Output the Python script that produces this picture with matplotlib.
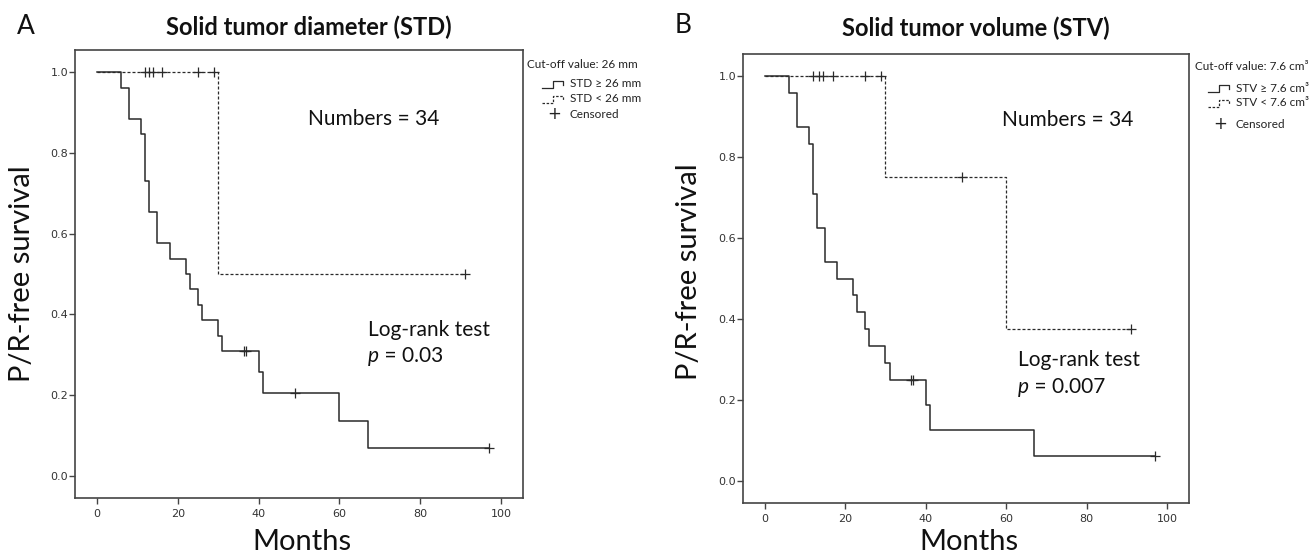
import matplotlib
matplotlib.use('Agg')
import matplotlib.pyplot as plt
from matplotlib.lines import Line2D

# DATA
# ------------------------------------------------------------------------------

# A - STD >= 26 mm (solid)
a_hi_t = [0, 6, 8, 11, 12, 13, 15, 18, 22, 23, 25, 26, 30, 31, 40, 41, 60, 67, 97]
a_hi_s = [1.0, 0.962, 0.885, 0.846, 0.731, 0.654, 0.577, 0.538, 0.500, 0.462,
          0.423, 0.385, 0.346, 0.308, 0.256, 0.205, 0.137, 0.068, 0.068]
a_hi_cens_t = [36.3, 36.8, 49, 97]
a_hi_cens_s = [0.308, 0.308, 0.205, 0.068]

# A - STD < 26 mm (dashed)
a_lo_t = [0, 30, 91]
a_lo_s = [1.0, 0.5, 0.5]
a_lo_cens_t = [12, 13, 14, 16, 25, 29, 91]
a_lo_cens_s = [1.0, 1.0, 1.0, 1.0, 1.0, 1.0, 0.5]

# B - STV >= 7.6 cm3 (solid)
b_hi_t = [0, 6, 8, 11, 12, 13, 15, 18, 22, 23, 25, 26, 30, 31, 40, 41, 67, 97]
b_hi_s = [1.0, 0.958, 0.875, 0.833, 0.708, 0.625, 0.542, 0.500, 0.458, 0.417,
          0.375, 0.333, 0.292, 0.250, 0.188, 0.125, 0.062, 0.062]
b_hi_cens_t = [36.3, 36.8, 97]
b_hi_cens_s = [0.250, 0.250, 0.062]

# B - STV < 7.6 cm3 (dashed)
b_lo_t = [0, 30, 60, 91]
b_lo_s = [1.0, 0.75, 0.375, 0.375]
b_lo_cens_t = [12, 13.5, 14.5, 17, 25, 29, 49, 91]
b_lo_cens_s = [1.0, 1.0, 1.0, 1.0, 1.0, 1.0, 0.75, 0.375]

x_ticks = [0, 20, 40, 60, 80, 100]
y_ticks = [0.0, 0.2, 0.4, 0.6, 0.8, 1.0]

# STYLE
# ------------------------------------------------------------------------------

W, H = 1311, 554
ink = '#2a2a2a'
fam = ['Lato', 'DejaVu Sans']

fig = plt.figure(figsize=(W / 100, H / 100), dpi=100, facecolor='white')


def fx(px):
    return px / W


def fy(py):
    return 1 - py / H


def km_panel(rect, hi, lo, n_xy, lr_xy, p_txt):
    ax = fig.add_axes(rect)
    t, s, ct, cs = hi
    t2, s2, ct2, cs2 = lo
    ax.plot(t2, s2, drawstyle='steps-post', color=ink, lw=0.9,
            linestyle=(0, (2.4, 1.6)))
    ax.plot(ct2, cs2, ls='none', marker='+', ms=7, mew=0.9, color=ink)
    ax.plot(t, s, drawstyle='steps-post', color=ink, lw=1.1)
    ax.plot(ct, cs, ls='none', marker='+', ms=7, mew=0.9, color=ink)

    ax.set_xlim(-5.4, 105.4)
    ax.set_ylim(-0.055, 1.055)
    ax.set_xticks(x_ticks)
    ax.set_yticks(y_ticks)
    ax.set_yticklabels([f'{v:.1f}' for v in y_ticks])
    for sp in ax.spines.values():
        sp.set_color('#444444')
        sp.set_linewidth(1.2)
    ax.tick_params(axis='both', length=4, width=1, color='#444444',
                   labelsize=8, labelcolor='#333333')
    ax.tick_params(axis='y', pad=1)
    ax.tick_params(axis='x', pad=4)

    ax.text(n_xy[0], n_xy[1], 'Numbers = 34', ha='center', va='center',
            fontsize=15, family=fam, color='#111111')
    ax.text(lr_xy[0], lr_xy[1], 'Log-rank test', ha='left', va='center',
            fontsize=15, family=fam, color='#111111')
    p = ax.text(lr_xy[0], lr_xy[2], 'p', ha='left', va='center',
                fontsize=15, family=fam, style='italic', color='#111111')
    ax.annotate(' = ' + p_txt, xy=(1, 0.5), xycoords=p, ha='left',
                va='center', fontsize=15, family=fam, color='#111111')
    return ax


def legend_block(x_title, y_title, x_icon, x_text, ys, title, lab1, lab2):
    fig.text(fx(x_title), fy(y_title), title, ha='left', va='center',
             fontsize=8.5, family=fam, color='#222222')
    for y, lab, dash in [(ys[0], lab1, False), (ys[1], lab2, True)]:
        xs = [x_icon, x_icon + 11, x_icon + 11, x_icon + 21, x_icon + 21]
        yy = [y + 4, y + 4, y - 3, y - 3, y + 1]
        ln = Line2D([fx(v) for v in xs], [fy(v) for v in yy],
                    transform=fig.transFigure, color=ink, lw=0.9,
                    linestyle=(0, (2, 1.3)) if dash else '-')
        fig.add_artist(ln)
        fig.text(fx(x_text), fy(y), lab, ha='left', va='center',
                 fontsize=8.5, family=fam, color='#222222')
    fig.text(fx(x_icon + 12), fy(ys[2]), '+', ha='center', va='center',
             fontsize=12, family='DejaVu Sans', color='#222222')
    fig.text(fx(x_text), fy(ys[2]), 'Censored', ha='left', va='center',
             fontsize=8.5, family=fam, color='#222222')


# PANEL A
# ------------------------------------------------------------------------------

km_panel([fx(75), fy(498), fx(523) - fx(75), fy(50) - fy(498)],
         (a_hi_t, a_hi_s, a_hi_cens_t, a_hi_cens_s),
         (a_lo_t, a_lo_s, a_lo_cens_t, a_lo_cens_s),
         (68.5, 0.884), (67.1, 0.362, 0.296), '0.03')

fig.text(fx(17), fy(26.5), 'A', ha='left', va='center', fontsize=19,
         family=fam, color='#111111')
fig.text(fx(309), fy(27.5), 'Solid tumor diameter (STD)', ha='center',
         va='center', fontsize=17, fontweight='bold', family=fam,
         color='#111111')
fig.text(fx(22), fy(274), 'P/R-free survival', rotation=90, ha='center',
         va='center', fontsize=21, family=fam, color='#111111')
fig.text(fx(302), fy(542), 'Months', ha='center', va='center', fontsize=21,
         family=fam, color='#111111')

legend_block(527, 65, 542, 570, [84, 99, 114], 'Cut-off value: 26 mm',
             'STD \u2265 26 mm', 'STD < 26 mm')

# PANEL B
# ------------------------------------------------------------------------------

km_panel([fx(743), fy(503), fx(1189) - fx(743), fy(54) - fy(503)],
         (b_hi_t, b_hi_s, b_hi_cens_t, b_hi_cens_s),
         (b_lo_t, b_lo_s, b_lo_cens_t, b_lo_cens_s),
         (75.2, 0.893), (62.8, 0.299, 0.233), '0.007')

fig.text(fx(675), fy(25.5), 'B', ha='left', va='center', fontsize=19,
         family=fam, color='#111111')
fig.text(fx(976), fy(28.5), 'Solid tumor volume (STV)', ha='center',
         va='center', fontsize=17, fontweight='bold', family=fam,
         color='#111111')
fig.text(fx(689), fy(272), 'P/R-free survival', rotation=90, ha='center',
         va='center', fontsize=21, family=fam, color='#111111')
fig.text(fx(969), fy(542), 'Months', ha='center', va='center', fontsize=21,
         family=fam, color='#111111')

legend_block(1195, 67, 1208, 1236, [88, 103, 124],
             'Cut-off value: 7.6 cm\u00b3',
             'STV \u2265 7.6 cm\u00b3', 'STV < 7.6 cm\u00b3')

plt.savefig('out.png', dpi=100, facecolor='white')
